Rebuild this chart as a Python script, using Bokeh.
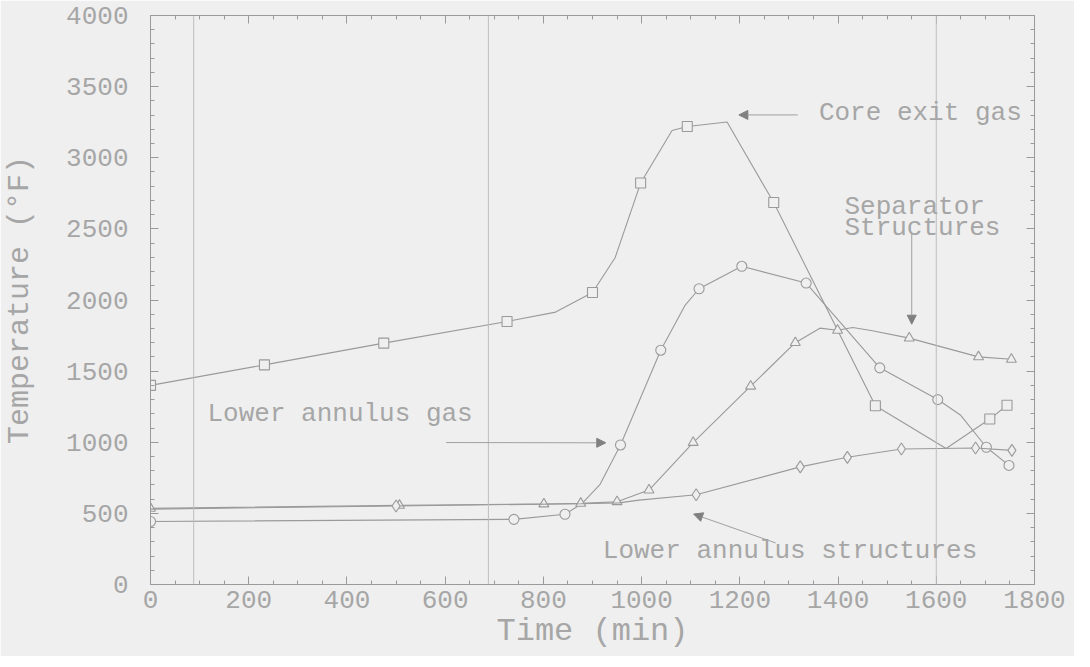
from bokeh.plotting import figure
from bokeh.models import (Range1d, LinearAxis, SingleIntervalTicker, Span, Arrow,
                          NormalHead, Label, CustomJSTickFormatter, ColumnDataSource)
from bokeh.embed import file_html
from bokeh.resources import INLINE

# ---------------- data ----------------
core_t = [0, 232, 475, 726, 825, 900, 946, 998, 1062, 1093, 1174, 1269, 1476, 1620, 1709, 1744]
core_T = [1400, 1544, 1697, 1849, 1915, 2053, 2297, 2822, 3192, 3220, 3251, 2685, 1257, 956, 1163, 1260]
core_m = [1, 1, 1, 1, 0, 1, 0, 1, 0, 1, 0, 1, 1, 0, 1, 1]

lag_t = [0, 740, 844, 879, 915, 957, 1039, 1088, 1117, 1204, 1335, 1485, 1603, 1649, 1702, 1748]
lag_T = [443, 458, 494, 570, 702, 981, 1647, 1960, 2079, 2237, 2119, 1523, 1300, 1192, 965, 837]
lag_m = [1, 1, 1, 0, 0, 1, 1, 0, 1, 1, 1, 1, 1, 0, 1, 1]

sep_t = [0, 507, 801, 876, 950, 1015, 1105, 1222, 1313, 1363, 1399, 1430, 1470, 1545, 1686, 1753]
sep_T = [535, 556, 566, 570, 582, 664, 998, 1394, 1700, 1802, 1787, 1807, 1784, 1732, 1600, 1583]
sep_m = [1, 1, 1, 1, 1, 1, 1, 1, 1, 0, 1, 0, 0, 1, 1, 1]

str_t = [0, 500, 876, 954, 995, 1111, 1323, 1419, 1529, 1680, 1754]
str_T = [530, 552, 568, 574, 593, 631, 827, 894, 953, 960, 943]
str_m = [0, 1, 0, 0, 0, 1, 1, 1, 1, 1, 1]

event_t = [88, 688, 1600]

x_ticks_major = 200
y_ticks_major = 500

# ---------------- style ----------------
BG = "#efefef"
LINE = "#9a9a9a"
TXT = "#a6a6a6"
FONT = "Liberation Mono"

p = figure(width=1074, height=656, output_backend="svg", toolbar_location=None,
           x_range=Range1d(0, 1800), y_range=Range1d(0, 4000),
           min_border_left=147, min_border_right=40, min_border_top=15,
           min_border_bottom=72)
p.background_fill_color = BG
p.border_fill_color = BG
p.outline_line_color = LINE
p.grid.visible = False

xt = SingleIntervalTicker(interval=x_ticks_major, num_minor_ticks=4)
yt = SingleIntervalTicker(interval=y_ticks_major, num_minor_ticks=5)
p.xaxis.ticker = xt
p.yaxis.ticker = yt

for ax in (p.xaxis[0], p.yaxis[0]):
    ax.axis_line_color = LINE
    ax.major_tick_line_color = LINE
    ax.minor_tick_line_color = LINE
    ax.major_tick_in = 8
    ax.major_tick_out = 0
    ax.minor_tick_in = 4
    ax.minor_tick_out = 0
    ax.major_label_text_font = FONT
    ax.major_label_text_font_size = "26px"
    ax.major_label_text_color = TXT
    ax.axis_label_text_font = FONT
    ax.axis_label_text_font_style = "normal"
    ax.axis_label_text_color = TXT

p.xaxis.major_label_standoff = 6
p.xaxis.axis_label = "Time (min)"
p.xaxis.axis_label_text_font_size = "32px"
p.xaxis.axis_label_standoff = 2
p.yaxis.major_label_standoff = 22
p.yaxis.axis_label = "Temperature (°F)"
p.yaxis.axis_label_text_font_size = "30px"
p.yaxis.axis_label_standoff = 26

blank = CustomJSTickFormatter(code="return ''")
for loc, tk in (("above", xt), ("right", yt)):
    ax = LinearAxis(ticker=SingleIntervalTicker(interval=tk.interval, num_minor_ticks=tk.num_minor_ticks),
                    formatter=blank)
    ax.axis_line_color = LINE
    ax.major_tick_line_color = LINE
    ax.minor_tick_line_color = LINE
    ax.major_tick_in = 8
    ax.major_tick_out = 0
    ax.minor_tick_in = 4
    ax.minor_tick_out = 0
    ax.major_label_standoff = 0
    p.add_layout(ax, loc)

for t in event_t:
    p.add_layout(Span(location=t, dimension="height", line_color="#bdbdbd", line_width=1))

series = [
    (core_t, core_T, core_m, "square"),
    (lag_t, lag_T, lag_m, "circle"),
    (sep_t, sep_T, sep_m, "triangle"),
    (str_t, str_T, str_m, "diamond"),
]
for t, T, m, mk in series:
    p.line(t, T, line_color=LINE, line_width=1.1)
    src = ColumnDataSource(dict(x=[a for a, k in zip(t, m) if k],
                                y=[b for b, k in zip(T, m) if k]))
    p.scatter("x", "y", source=src, marker=mk, size=10 if mk != "diamond" else 12,
              line_color=LINE, fill_color=BG, line_width=1.1)

def label(x, y, text):
    p.add_layout(Label(x=x, y=y, text=text, text_font=FONT, text_font_size="26px",
                       text_color=TXT, text_baseline="middle", text_align="left"))

def arrow(x0, y0, x1, y1):
    p.add_layout(Arrow(end=NormalHead(size=9, fill_color="#808080", line_color="#808080"),
                       x_start=x0, y_start=y0, x_end=x1, y_end=y1,
                       line_color="#a0a0a0", line_width=1))

label(1361, 3315, "Core exit gas")
arrow(1318, 3301, 1198, 3301)
label(1413, 2652, "Separator")
label(1413, 2504, "Structures")
arrow(1550, 2463, 1550, 1830)
label(116, 1197, "Lower annulus gas")
arrow(602, 998, 927, 996)
label(921, 235, "Lower annulus structures")
arrow(1273, 292, 1106, 495)

open("out.html", "w").write(file_html(p, INLINE))
